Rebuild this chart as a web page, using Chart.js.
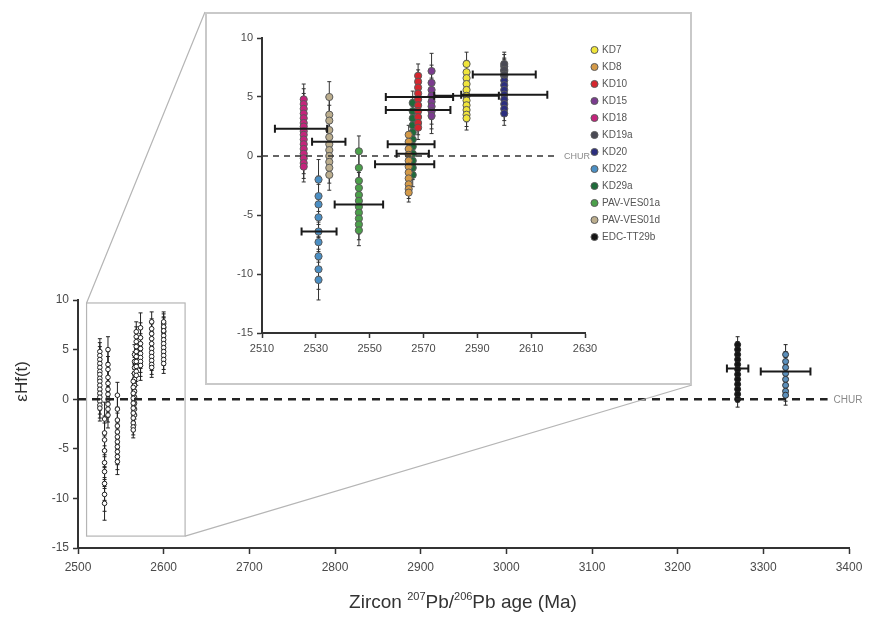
<!DOCTYPE html>
<html>
<head>
<meta charset="utf-8">
<script src="https://cdn.jsdelivr.net/npm/chart.js@4.4.1/dist/chart.umd.min.js"></script>
<style>
  body { margin: 0; background: #fff; }
  #wrap { position: relative; width: 875px; height: 621px; overflow: hidden; }
  #main { position: absolute; left: 0; top: 0; }
  #insetBox { position: absolute; left: 205px; top: 12px; width: 483px; height: 369px;
              border: 2px solid #c9c9c9; background: #fff; }
  #inset { display: block; }
</style>
</head>
<body>
<div id="wrap">
  <canvas id="main" width="875" height="621"></canvas>
  <div id="insetBox"><canvas id="inset" width="483" height="369"></canvas></div>
</div>
<script>
const family = "'Liberation Sans', Arial, sans-serif";

const samples = ['KD7', 'KD8', 'KD10', 'KD15', 'KD18', 'KD19a', 'KD20', 'KD22', 'KD29a', 'PAV-VES01a', 'PAV-VES01d', 'EDC-TT29b'];
const sampleColors = ['#f0e53a', '#d49a48', '#d6262e', '#7b3b8f', '#c4247c', '#4a4a55', '#2c2e7e', '#4b8fc4', '#1e6b3a', '#4ba04a', '#bcae8e', '#151515'];
// 207Pb/206Pb age of each sample (Ma)
const sampleAge = [2586, 2564.5, 2568, 2573, 2525.5, 2600, 2600, 2531, 2566, 2546, 2535, 3270];
// single-grain eHf(t) values
const sampleHf = [
  [7.8, 7.1, 6.6, 6.1, 5.6, 5.1, 4.7, 4.3, 3.9, 3.5, 3.2],
  [1.8, 1.2, 0.6, 0.1, -0.4, -0.9, -1.4, -1.9, -2.4, -2.8, -3.1],
  [6.8, 6.3, 5.8, 5.3, 4.8, 4.3, 3.8, 3.3, 2.8, 2.4],
  [7.2, 6.2, 5.6, 5.1, 4.6, 4.2, 3.8, 3.4],
  [4.8, 4.4, 4.0, 3.6, 3.2, 2.8, 2.5, 2.1, 1.8, 1.4, 1.0, 0.6, 0.2, -0.2, -0.6, -0.9],
  [7.8, 7.3, 6.9],
  [7.6, 7.2, 6.8, 6.4, 6.0, 5.6, 5.2, 4.8, 4.4, 4.0, 3.6],
  [-2.0, -3.4, -4.1, -5.2, -6.4, -7.3, -8.5, -9.6, -10.5],
  [4.5, 3.8, 3.2, 2.6, 2.0, 1.4, 0.8, 0.2, -0.4, -1.0, -1.6],
  [0.4, -1.0, -2.1, -2.7, -3.3, -3.8, -4.3, -4.8, -5.3, -5.8, -6.3],
  [5.0, 3.5, 3.0, 2.2, 1.6, 1.0, 0.5, 0.0, -0.5, -1.0, -1.6],
  [5.5, 5.0, 4.5, 4.0, 3.5, 3.0, 2.5, 2.0, 1.5, 1.0, 0.5, 0.0]
];
const hfErr = [1.0, 0.8, 1.0, 1.5, 1.3, 1.0, 1.0, 1.7, 1.0, 1.3, 1.3, 0.8];

// grain population not in the legend (~3.33 Ga)
const otherAge = 3326;
const otherHf = [4.5, 3.8, 3.2, 2.6, 2.0, 1.4, 0.8, 0.4];
const otherErr = 1.0;

// weighted mean eHf(t) with age uncertainty
const meanAge    = [2524.5, 2534.8, 2531.2, 2546, 2563, 2566, 2565.4, 2568, 2568.5, 2586, 2600, 2600, 3270, 3326];
const meanAgeErr = [9.7, 6.2, 6.5, 9, 11, 6, 8.7, 12, 12.5, 12, 16, 11.7, 12.5, 29];
const meanHf     = [2.3, 1.2, -6.4, -4.1, -0.7, 0.2, 1.0, 3.9, 5.0, 5.1, 5.2, 6.9, 3.1, 2.8];

// CHUR reference line extents
const churMain = [2500, 3375];
const churInset = [2510, 2620];

// area of the main plot shown in the inset
const zoomAge = [2510, 2625];
const zoomHf = [-13.8, 9.7];

function pointsOf(age, vals) { return vals.map(v => ({ x: age, y: v })); }

const errorBars = {
  id: 'errorBars',
  beforeDatasetsDraw(chart, args, opts) {
    const { ctx, chartArea: a, scales: { x, y } } = chart;
    ctx.save();
    ctx.beginPath(); ctx.rect(a.left, a.top - 8, a.width, a.height + 8); ctx.clip();
    ctx.strokeStyle = opts.color; ctx.lineWidth = opts.width;
    chart.data.datasets.forEach(ds => {
      if (ds.hfErr === undefined) return;
      ds.data.forEach(p => {
        const px = x.getPixelForValue(p.x);
        const top = y.getPixelForValue(p.y + ds.hfErr);
        const bot = y.getPixelForValue(p.y - ds.hfErr);
        ctx.beginPath();
        ctx.moveTo(px, top); ctx.lineTo(px, bot);
        ctx.moveTo(px - opts.cap, top); ctx.lineTo(px + opts.cap, top);
        ctx.moveTo(px - opts.cap, bot); ctx.lineTo(px + opts.cap, bot);
        ctx.stroke();
      });
    });
    ctx.restore();
  },
  afterDatasetsDraw(chart, args, opts) {
    const { ctx, chartArea: a, scales: { x, y } } = chart;
    ctx.save();
    ctx.beginPath(); ctx.rect(a.left, a.top, a.width, a.height); ctx.clip();
    ctx.strokeStyle = '#1a1a1a'; ctx.lineWidth = opts.meanWidth;
    meanAge.forEach((age, i) => {
      if (age < opts.meanFrom) return;
      const x1 = x.getPixelForValue(age - meanAgeErr[i]);
      const x2 = x.getPixelForValue(age + meanAgeErr[i]);
      const py = y.getPixelForValue(meanHf[i]);
      ctx.beginPath();
      ctx.moveTo(x1, py); ctx.lineTo(x2, py);
      ctx.moveTo(x1, py - opts.meanCap); ctx.lineTo(x1, py + opts.meanCap);
      ctx.moveTo(x2, py - opts.meanCap); ctx.lineTo(x2, py + opts.meanCap);
      ctx.stroke();
    });
    ctx.restore();
  }
};

const churLabel = {
  id: 'churLabel',
  afterDatasetsDraw(chart, args, opts) {
    const ds = chart.data.datasets.find(d => d.label === 'CHUR');
    const last = ds.data[ds.data.length - 1];
    const { ctx, scales: { x, y } } = chart;
    ctx.save();
    ctx.font = opts.size + 'px ' + family;
    ctx.fillStyle = '#8a8a8a';
    ctx.textBaseline = 'middle';
    ctx.fillText('CHUR', x.getPixelForValue(last.x) + 6, y.getPixelForValue(0) + 1);
    ctx.restore();
  }
};

const mainDecor = {
  id: 'mainDecor',
  afterDraw(chart) {
    const { ctx, scales: { x, y } } = chart;
    const box = document.getElementById('insetBox');
    const bl = box.offsetLeft, bt = box.offsetTop;
    const br = bl + box.offsetWidth, bb = bt + box.offsetHeight;
    const rx1 = x.getPixelForValue(zoomAge[0]), rx2 = x.getPixelForValue(zoomAge[1]);
    const ry1 = y.getPixelForValue(zoomHf[1]), ry2 = y.getPixelForValue(zoomHf[0]);
    ctx.save();
    ctx.strokeStyle = '#b5b5b5'; ctx.lineWidth = 1.2;
    ctx.strokeRect(rx1, ry1, rx2 - rx1, ry2 - ry1);
    ctx.beginPath();
    ctx.moveTo(rx1, ry1); ctx.lineTo(bl, bt);
    ctx.moveTo(rx2, ry2); ctx.lineTo(br, bb);
    ctx.stroke();

    // y title
    ctx.fillStyle = '#333';
    ctx.font = '17px ' + family;
    ctx.textAlign = 'center'; ctx.textBaseline = 'middle';
    ctx.translate(22, y.getPixelForValue(1.8));
    ctx.rotate(-Math.PI / 2);
    ctx.fillText('εHf(t)', 0, 0);
    ctx.restore();

    // x title with superscripts
    const parts = [['Zircon ', 19, 0], ['207', 11, -8], ['Pb/', 19, 0], ['206', 11, -8], ['Pb age (Ma)', 19, 0]];
    ctx.save();
    ctx.fillStyle = '#333';
    ctx.textBaseline = 'alphabetic';
    let total = 0;
    parts.forEach(p => { ctx.font = p[1] + 'px ' + family; total += ctx.measureText(p[0]).width; });
    let cx = 463 - total / 2;
    parts.forEach(p => {
      ctx.font = p[1] + 'px ' + family;
      ctx.fillText(p[0], cx, 608 + p[2]);
      cx += ctx.measureText(p[0]).width;
    });
    ctx.restore();
  }
};

function axisStyle(size) {
  return {
    ticks: { color: '#4a4a4a', font: { family, size }, callback: v => String(v) },
    grid: { drawOnChartArea: false, color: '#333', tickLength: 5, tickWidth: 1.5 },
    border: { color: '#333', width: 2 }
  };
}

// ---- main chart ----
const mainSets = [{
  type: 'line', label: 'CHUR',
  data: churMain.map(a => ({ x: a, y: 0 })),
  borderColor: '#222', borderWidth: 2.6, borderDash: [8, 6], pointRadius: 0
}];
samples.forEach((s, i) => {
  const far = sampleAge[i] > 3000;
  mainSets.push({
    label: s, data: pointsOf(sampleAge[i], sampleHf[i]), hfErr: hfErr[i],
    backgroundColor: far ? sampleColors[i] : '#fff', borderColor: '#222',
    borderWidth: 1, pointRadius: far ? 3 : 2.3
  });
});
mainSets.push({
  label: 'other', data: pointsOf(otherAge, otherHf), hfErr: otherErr,
  backgroundColor: '#5b8fbb', borderColor: '#333', borderWidth: 1, pointRadius: 3
});

const mx = axisStyle(12), my = axisStyle(12);
new Chart(document.getElementById('main'), {
  type: 'scatter',
  data: { datasets: mainSets },
  options: {
    responsive: false, animation: false,
    layout: { padding: { top: 300, right: 26, left: 0, bottom: 0 } },
    plugins: {
      legend: { display: false }, tooltip: { enabled: false },
      errorBars: { color: '#222', width: 1, cap: 2, meanWidth: 2, meanCap: 4, meanFrom: 3000 },
      churLabel: { size: 10 }
    },
    scales: {
      x: { type: 'linear', min: 2500, max: 3400,
        ticks: { ...mx.ticks, stepSize: 100, padding: 6, maxRotation: 0 },
        grid: { ...mx.grid, tickLength: 6 }, border: mx.border,
        afterFit(s) { s.height = 73; } },
      y: { min: -15, max: 10,
        ticks: { ...my.ticks, stepSize: 5, padding: 4 },
        grid: my.grid, border: my.border,
        afterFit(s) { s.width = 78; } }
    }
  },
  plugins: [errorBars, churLabel, mainDecor]
});

// ---- inset chart ----
const insetSets = samples.map((s, i) => ({
  label: s, data: sampleAge[i] < 2700 ? pointsOf(sampleAge[i], sampleHf[i]) : [],
  hfErr: hfErr[i],
  backgroundColor: sampleColors[i], borderColor: '#5a5a5a', borderWidth: 1, pointRadius: 3.6
}));
insetSets.unshift({
  type: 'line', label: 'CHUR',
  data: churInset.map(a => ({ x: a, y: 0 })),
  borderColor: '#333', borderWidth: 1.4, borderDash: [6, 5], pointRadius: 0
});

const ix = axisStyle(11), iy = axisStyle(11);
new Chart(document.getElementById('inset'), {
  type: 'scatter',
  data: { datasets: insetSets },
  options: {
    responsive: false, animation: false,
    layout: { padding: { top: 24, right: 20, left: 0, bottom: 0 } },
    plugins: {
      tooltip: { enabled: false },
      legend: {
        position: 'right', align: 'start',
        labels: {
          usePointStyle: true, pointStyle: 'circle', boxHeight: 5, boxWidth: 5, padding: 7,
          color: '#555', font: { family, size: 10 },
          filter: item => item.text !== 'CHUR'
        }
      },
      errorBars: { color: '#333', width: 1, cap: 2, meanWidth: 2, meanCap: 4, meanFrom: 0 },
      churLabel: { size: 9 }
    },
    scales: {
      x: { type: 'linear', min: 2510, max: 2630,
        ticks: { ...ix.ticks, stepSize: 20, padding: 4, maxRotation: 0 },
        grid: ix.grid, border: ix.border,
        afterFit(s) { s.height = 50; } },
      y: { min: -15, max: 10,
        ticks: { ...iy.ticks, stepSize: 5, padding: 4 },
        grid: iy.grid, border: iy.border,
        afterFit(s) { s.width = 55; } }
    }
  },
  plugins: [errorBars, churLabel]
});
</script>
</body>
</html>
